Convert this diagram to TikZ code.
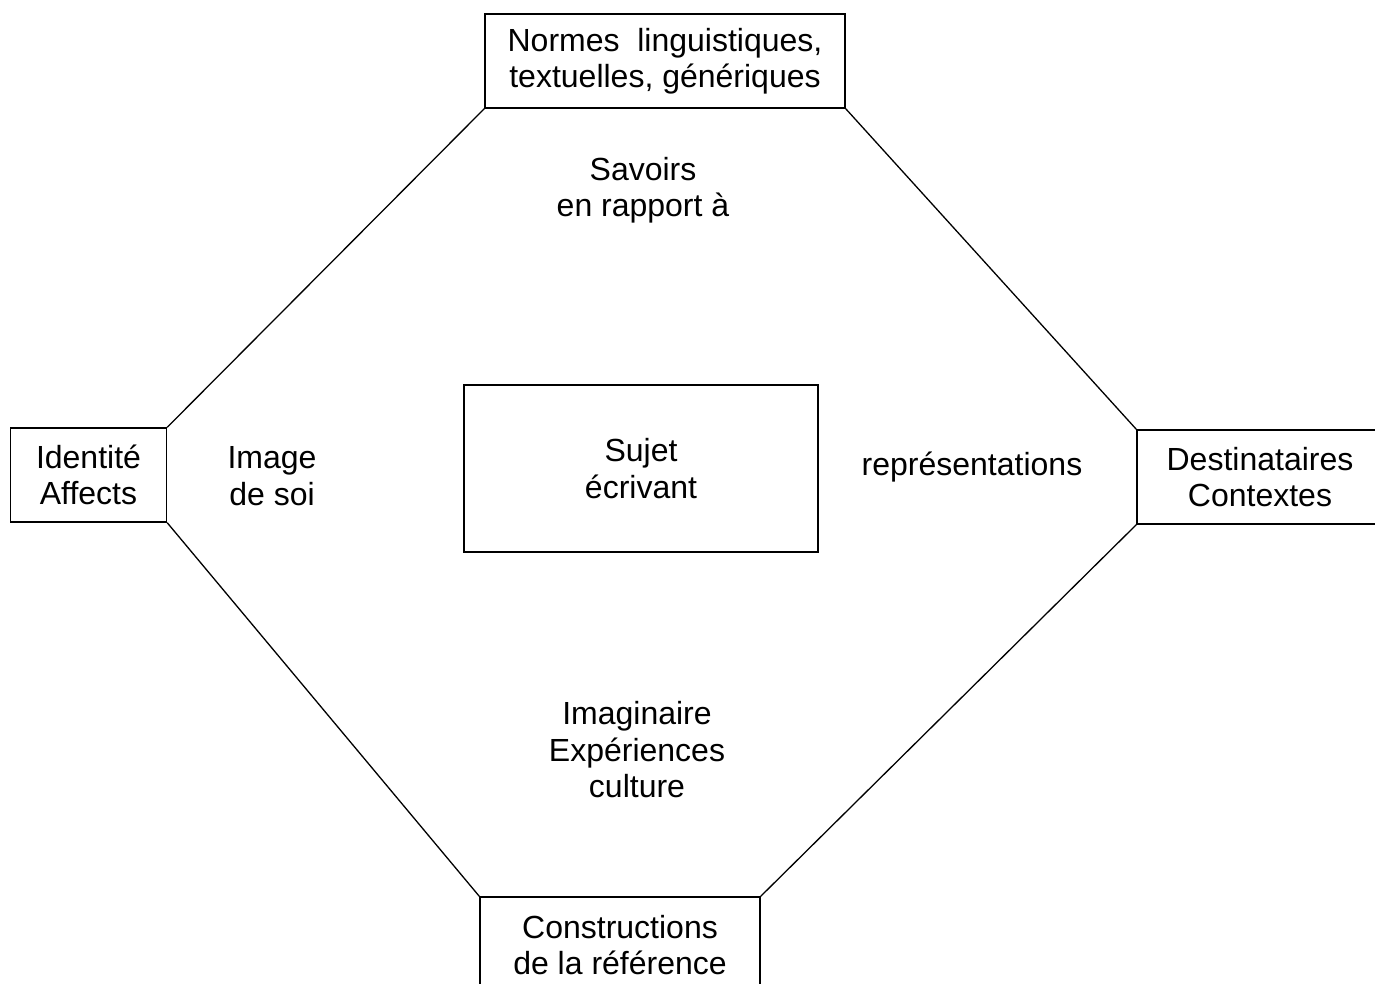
\documentclass[tikz,border=0pt]{standalone}
\usepackage{fontspec}
\setmainfont{Liberation Sans}
\begin{document}
\begin{tikzpicture}[x=1pt,y=-1pt,
  txt/.style={font=\fontsize{32}{36.5}\selectfont, align=center, inner sep=0pt},
  box/.style={txt, draw, line width=1.4pt},
  link/.style={line width=1.3pt}]
\useasboundingbox (0,0) rectangle (1375,984);
\clip (0,0) rectangle (1375,984);
\fill[white] (0,0) rectangle (1375,984);
\node[box, minimum width=360, minimum height=94] (T) at (665,61) {Normes\ \ linguistiques,\\textuelles, génériques};
\node[box, minimum width=156, minimum height=94] (L) at (88.5,475) {Identité\\Affects};
\node[box, minimum width=246, minimum height=94] (R) at (1260,477) {Destinataires\\Contextes};
\node[box, minimum width=280, minimum height=96] (B) at (620,945) {Constructions\\de la référence};
\node[box, minimum width=354, minimum height=167] (C) at (641,468.5) {Sujet\\écrivant};
\node[txt] (sav) at (643,190) {Savoirs\\en rapport à};
\node[txt] (img) at (272,476) {Image\\de soi};
\node[txt] (rep) at (972,467) {représentations};
\node[txt] (ima) at (637,750) {Imaginaire\\Expériences\\culture};
\draw[link] (L.north east) -- (T.south west);
\draw[link] (T.south east) -- (R.north west);
\draw[link] (L.south east) -- (B.north west);
\draw[link] (B.north east) -- (R.south west);
\end{tikzpicture}
\end{document}
